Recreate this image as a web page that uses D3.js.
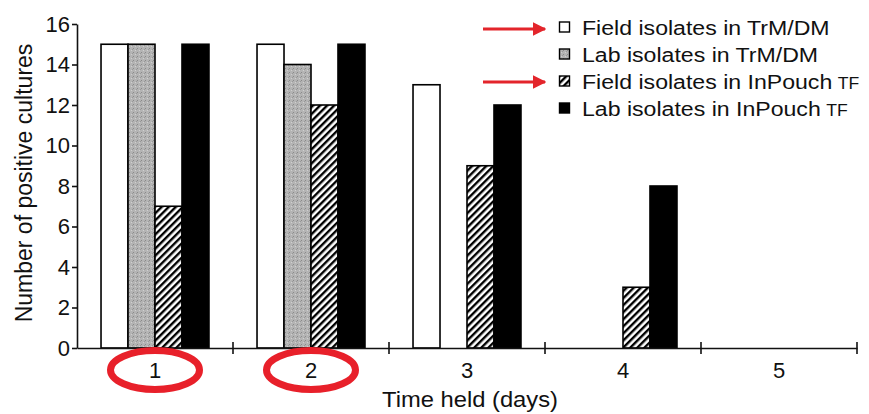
<!DOCTYPE html>
<html>
<head>
<meta charset="utf-8">
<script src="https://cdn.jsdelivr.net/npm/d3@7/dist/d3.min.js"></script>
<style>
  html, body { margin: 0; padding: 0; background: #fff; }
  svg { display: block; font-family: "Liberation Sans", Arial, Helvetica, sans-serif; }
</style>
</head>
<body>
<svg id="chart" width="869" height="414"></svg>
<script>
// ---- data ----
const days = ["1", "2", "3", "4", "5"];
const seriesNames = [
  "Field isolates in TrM/DM",
  "Lab isolates in TrM/DM",
  "Field isolates in InPouch",
  "Lab isolates in InPouch"
];
const seriesSuffix = ["", "", "TF", "TF"];
const fieldTrM = [15, 15, 13, 0, 0];
const labTrM = [15, 14, 0, 0, 0];
const fieldInPouch = [7, 12, 9, 3, 0];
const labInPouch = [15, 15, 12, 8, 0];
const yTicks = [0, 2, 4, 6, 8, 10, 12, 14, 16];
const highlightedDays = ["1", "2"];
const arrowRows = [0, 2];

const seriesValues = [fieldTrM, labTrM, fieldInPouch, labInPouch];
const fills = ["#ffffff", "url(#stipple)", "url(#hatch)", "#000000"];

const svg = d3.select("#chart");
const margin = { left: 77, right: 12, top: 24, bottom: 66 };
const W = 869, H = 414;

// patterns
const defs = svg.append("defs");
const hatch = defs.append("pattern")
  .attr("id", "hatch").attr("patternUnits", "userSpaceOnUse")
  .attr("width", 5).attr("height", 5)
  .attr("patternTransform", "rotate(45)");
hatch.append("rect").attr("width", 5).attr("height", 5).attr("fill", "#fff");
hatch.append("line").attr("x1", 1.2).attr("y1", 0).attr("x2", 1.2).attr("y2", 5)
  .attr("stroke", "#000").attr("stroke-width", 2.4);

const stip = defs.append("pattern")
  .attr("id", "stipple").attr("patternUnits", "userSpaceOnUse")
  .attr("width", 4).attr("height", 4);
stip.append("rect").attr("width", 4).attr("height", 4).attr("fill", "#b4b4b4");
stip.append("rect").attr("x", 0).attr("y", 0).attr("width", 1).attr("height", 1).attr("fill", "#8a8a8a");
stip.append("rect").attr("x", 2).attr("y", 2).attr("width", 1).attr("height", 1).attr("fill", "#d0d0d0");
stip.append("rect").attr("x", 3).attr("y", 1).attr("width", 1).attr("height", 1).attr("fill", "#999");

const arrowDef = defs.append("marker")
  .attr("id", "arrowhead").attr("viewBox", "0 0 10 10")
  .attr("refX", 9).attr("refY", 5)
  .attr("markerWidth", 4.5).attr("markerHeight", 4.5)
  .attr("markerUnits", "strokeWidth")
  .attr("orient", "auto");
arrowDef.append("path").attr("d", "M0,0 L10,5 L0,10 Z").attr("fill", "#e3252b");

// scales
const x0 = d3.scaleBand().domain(days).range([margin.left, W - margin.right]).padding(0);
const x1 = d3.scaleBand().domain(d3.range(seriesNames.length))
  .range([0, x0.bandwidth()]).paddingInner(0).paddingOuter(0.89);
const y = d3.scaleLinear().domain([0, 16]).range([H - margin.bottom, margin.top]);

// bars
const groups = svg.append("g").selectAll("g").data(days).join("g")
  .attr("transform", d => `translate(${x0(d)},0)`);
groups.selectAll("rect")
  .data((d, i) => seriesValues.map((vals, s) => ({ s, v: vals[i] })).filter(o => o.v > 0))
  .join("rect")
  .attr("x", o => x1(o.s))
  .attr("y", o => y(o.v))
  .attr("width", x1.bandwidth())
  .attr("height", o => y(0) - y(o.v))
  .attr("fill", o => fills[o.s])
  .attr("stroke", "#000")
  .attr("stroke-width", 1.6);

// y axis
const yAxis = svg.append("g")
  .attr("transform", `translate(${margin.left},0)`)
  .call(d3.axisLeft(y).tickValues(yTicks).tickSize(5).tickPadding(2).tickSizeOuter(0));
yAxis.select(".domain").attr("stroke", "#111").attr("stroke-width", 1.6);
yAxis.selectAll(".tick line").attr("stroke", "#111").attr("stroke-width", 1.6);
yAxis.selectAll(".tick text").attr("font-size", 22).attr("fill", "#111")
  .attr("font-family", "Liberation Sans, Arial, sans-serif");

// x axis: line with ticks at band boundaries, labels at band centers
const xAxisG = svg.append("g");
const xAxisLabels = svg.append("g")
  .attr("transform", `translate(0,${y(0)})`)
  .call(d3.axisBottom(x0).tickSize(0).tickPadding(14));
xAxisLabels.select(".domain").attr("stroke", "#111").attr("stroke-width", 1.6);
xAxisLabels.selectAll(".tick text").attr("font-size", 22).attr("fill", "#111")
  .attr("font-family", "Liberation Sans, Arial, sans-serif");
const boundaries = days.map(d => x0(d) + x0.bandwidth());
xAxisG.selectAll("line").data(boundaries).join("line")
  .attr("x1", d => d).attr("x2", d => d)
  .attr("y1", y(0) - 6).attr("y2", y(0) + 6)
  .attr("stroke", "#111").attr("stroke-width", 1.6);

// axis titles
svg.append("text")
  .attr("transform", `translate(32,${(y(0) + y(16)) / 2 - 3}) rotate(-90)`)
  .attr("text-anchor", "middle")
  .attr("font-size", 23).attr("fill", "#111")
  .text("Number of positive cultures");
svg.append("text")
  .attr("x", x0("3") + x0.bandwidth() / 2 + 3)
  .attr("y", 407)
  .attr("text-anchor", "middle")
  .attr("font-size", 22).attr("fill", "#111")
  .attr("transform-origin", "470 400")
  .style("transform", "scaleX(1.08)")
  .text("Time held (days)");

// legend
const legend = svg.append("g").attr("transform", "translate(559,35)");
const rows = legend.selectAll("g").data(seriesNames).join("g")
  .attr("transform", (d, i) => `translate(0,${i * 27})`);
rows.append("rect")
  .attr("x", 0.5).attr("y", -13).attr("width", 10).attr("height", 10)
  .attr("fill", (d, i) => fills[i]).attr("stroke", "#000").attr("stroke-width", 1.4);
const lt = rows.append("text")
  .attr("x", 0).attr("y", 0)
  .attr("font-size", 21).attr("fill", "#111")
  .attr("transform", "translate(23,0) scale(1.1,1)");
lt.append("tspan").text(d => d);
lt.append("tspan").attr("font-size", 16).attr("dx", 5)
  .text((d, i) => seriesSuffix[i]);

// red annotation arrows
svg.append("g").selectAll("line").data(arrowRows).join("line")
  .attr("x1", 483).attr("x2", 545)
  .attr("y1", r => 29 + r * 26.5).attr("y2", r => 29 + r * 26.5)
  .attr("stroke", "#e3252b").attr("stroke-width", 3)
  .attr("marker-end", "url(#arrowhead)");

// red ellipses around highlighted day labels
svg.append("g").selectAll("ellipse").data(highlightedDays).join("ellipse")
  .attr("cx", d => x0(d) + x0.bandwidth() / 2)
  .attr("cy", 370)
  .attr("rx", 44.5).attr("ry", 19.5)
  .attr("fill", "none")
  .attr("stroke", "#e8202a").attr("stroke-width", 7);
</script>
</body>
</html>
